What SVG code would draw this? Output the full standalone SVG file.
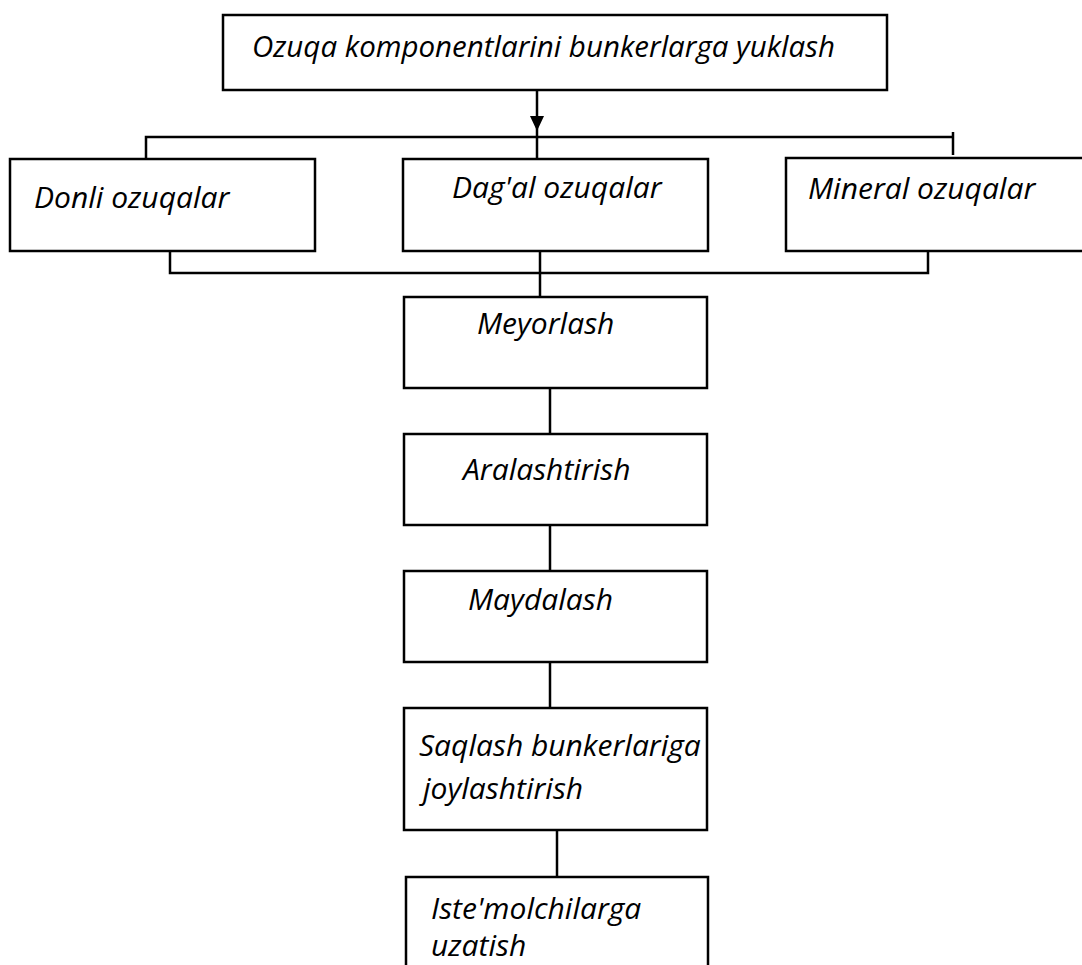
<svg xmlns="http://www.w3.org/2000/svg" width="1082" height="965" viewBox="0 0 1082 965">
<style>
.box{fill:#fff;stroke:#000;stroke-width:2.5}
.t{font-family:"Open Sans","Liberation Sans",sans-serif;font-style:italic;font-size:30px;fill:#000}
.c{fill:none;stroke:#000;stroke-width:2.5}
</style>
<defs>
<marker id="ah" markerWidth="15" markerHeight="14" refX="15" refY="7" orient="auto" markerUnits="userSpaceOnUse" viewBox="0 0 15 14">
<path d="M0,0 L15,7 L0,14 Z" fill="#000"/>
</marker>
</defs>
<rect width="1082" height="965" fill="#fff"/>
<g id="connectors">
<line class="c" x1="537" y1="90" x2="537" y2="131" marker-end="url(#ah)"/>
<polyline class="c" points="146,158 146,137 953,137"/>
<line class="c" x1="953" y1="132" x2="953" y2="155"/>
<line class="c" x1="537" y1="131" x2="537" y2="158"/>
<polyline class="c" points="170,251 170,273 928,273 928,251"/>
<line class="c" x1="540" y1="251" x2="540" y2="297"/>
<line class="c" x1="550" y1="388" x2="550" y2="434"/>
<line class="c" x1="550" y1="525" x2="550" y2="571"/>
<line class="c" x1="550" y1="662" x2="550" y2="708"/>
<line class="c" x1="557" y1="830" x2="557" y2="877"/>
</g>
<g id="n_top"><rect class="box" x="223" y="15" width="664" height="75"/><text class="t" x="252" y="57" style="font-size:29.5px">Ozuqa komponentlarini bunkerlarga yuklash</text></g>
<g id="n_donli"><rect class="box" x="10" y="159" width="305" height="92"/><text class="t" x="34" y="208">Donli ozuqalar</text></g>
<g id="n_dagal"><rect class="box" x="403" y="159" width="305" height="92"/><text class="t" x="452" y="198">Dag'al ozuqalar</text></g>
<g id="n_mineral"><rect class="box" x="786" y="158" width="310" height="93"/><text class="t" x="808" y="199">Mineral ozuqalar</text></g>
<g id="n_meyorlash"><rect class="box" x="404" y="297" width="303" height="91"/><text class="t" x="477" y="334">Meyorlash</text></g>
<g id="n_aralashtirish"><rect class="box" x="404" y="434" width="303" height="91"/><text class="t" x="463" y="480">Aralashtirish</text></g>
<g id="n_maydalash"><rect class="box" x="404" y="571" width="303" height="91"/><text class="t" x="468" y="610">Maydalash</text></g>
<g id="n_saqlash"><rect class="box" x="404" y="708" width="303" height="122"/><text class="t" x="419" y="756">Saqlash bunkerlariga</text><text class="t" x="423" y="799">joylashtirish</text></g>
<g id="n_iste"><rect class="box" x="406" y="877" width="302" height="100"/><text class="t" x="431" y="919">Iste'molchilarga</text><text class="t" x="431" y="956">uzatish</text></g>
</svg>
